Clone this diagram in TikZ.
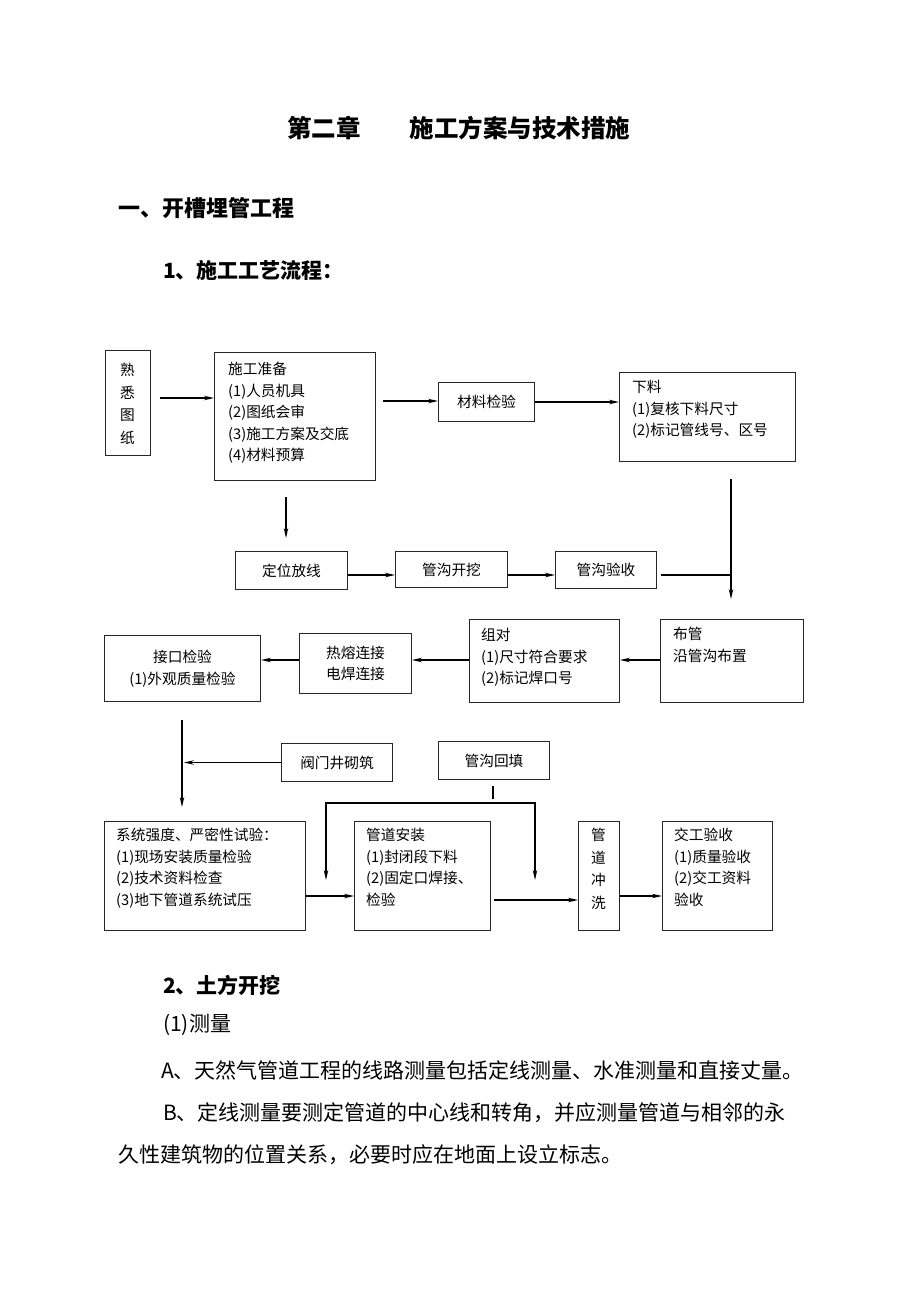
\documentclass[tikz,border=0pt]{standalone}
\usepackage{fontspec}
\setmainfont{Noto Sans CJK SC}
\usetikzlibrary{arrows.meta}
\begin{document}
\begin{tikzpicture}[x=1pt,y=-1pt,
  box/.style={draw=black!85, line width=1pt, inner sep=0pt, anchor=north west},
  txt/.style={inner sep=0pt, font=\fontsize{14.7}{21.5}\selectfont, align=left},
  vtxt/.style={inner sep=0pt, font=\fontsize{14.7}{22.5}\selectfont, align=center},
  body/.style={inner sep=0pt, anchor=west, font=\fontsize{21}{25}\selectfont},
  head/.style={inner sep=0pt, anchor=west, font=\fontsize{21}{25}\selectfont\bfseries},
  arr/.style={-{Stealth[length=10pt,width=4.5pt]}, line width=1.2pt},
  ln/.style={line width=1.2pt}]
\fill[white] (0,0) rectangle (920,1302);
\useasboundingbox (0,0) rectangle (920,1302);

% headings
\node[head, font=\fontsize{24.5}{28}\selectfont\bfseries] (title) at (287,128) {第二章\hspace{49pt}施工方案与技术措施};
\node[head, font=\fontsize{22}{26}\selectfont\bfseries] (h1) at (118,208) {一、开槽埋管工程};
\node[head] (h2) at (163,270) {1、施工工艺流程：};

% row 1
\node[box, minimum width=45pt, minimum height=105pt] (sx) at (105,350) {};
\node[vtxt] (sxt) at (127.5,404) {熟\\悉\\图\\纸};
\node[box, minimum width=161pt, minimum height=128pt] (zb) at (214,352) {};
\node[txt, anchor=north west] (zbt) at (228,362) {施工准备\\(1)人员机具\\(2)图纸会审\\(3)施工方案及交底\\(4)材料预算};
\node[box, minimum width=96pt, minimum height=39pt] (cl) at (438,382) {};
\node[txt] (clt) at (cl.center) {材料检验};
\node[box, minimum width=176pt, minimum height=89pt] (xl) at (619,372) {};
\node[txt, anchor=north west] (xlt) at (632,380) {下料\\(1)复核下料尺寸\\(2)标记管线号、区号};

\coordinate (a1) at (160,398);
\draw[arr] (a1) -- (a1 -| zb.west);
\coordinate (a2) at (383,401);
\draw[arr] (a2) -- (a2 -| cl.west);
\draw[arr] (cl.east) -- (cl.east -| xl.west);

% row 2
\coordinate (d1) at (286,497);
\coordinate (d2) at (286,538);
\draw[arr] (d1) -- (d2);
\node[box, minimum width=112pt, minimum height=38pt] (dw) at (235,551) {};
\node[txt] (dwt) at (dw.center) {定位放线};
\node[box, minimum width=112pt, minimum height=36pt] (kw) at (395,551) {};
\node[txt] (kwt) at (kw.center) {管沟开挖};
\node[box, minimum width=101pt, minimum height=37pt] (ys) at (555,551) {};
\node[txt] (yst) at (ys.center) {管沟验收};
\draw[arr] (dw.east |- 0,575) -- (kw.west |- 0,575);
\draw[arr] (kw.east |- 0,575) -- (ys.west |- 0,575);
\coordinate (v1) at (731,479);
\coordinate (v2) at (731,599);
\coordinate (j1) at (661,575);
\draw[arr] (v1) -- (v2);
\draw[ln] (j1) -- (j1 -| v1);

% row 3
\node[box, minimum width=143pt, minimum height=83pt] (bg) at (660,619) {};
\node[txt, anchor=north west] (bgt) at (673,627) {布管\\沿管沟布置};
\node[box, minimum width=150pt, minimum height=83pt] (zd) at (469,619) {};
\node[txt, anchor=north west] (zdt) at (481,628) {组对\\(1)尺寸符合要求\\(2)标记焊口号};
\node[box, minimum width=112pt, minimum height=60pt] (rr) at (299,633) {};
\node[txt, align=center] (rrt) at (rr.center) {热熔连接\\电焊连接};
\node[box, minimum width=156pt, minimum height=66pt] (jk) at (104,635) {};
\node[txt, align=center] (jkt) at (jk.center) {接口检验\\(1)外观质量检验};
\draw[arr] (bg.west |- 0,660) -- (zd.east |- 0,660);
\draw[arr] (zd.west |- 0,660) -- (rr.east |- 0,660);
\draw[arr] (rr.west |- 0,660) -- (jk.east |- 0,660);

% row 4
\coordinate (e1) at (182,720);
\coordinate (e2) at (182,807);
\draw[arr] (e1) -- (e2);
\node[box, minimum width=111pt, minimum height=38pt] (fm) at (281,743) {};
\node[txt] (fmt) at (fm.center) {阀门井砌筑};
\coordinate (f1) at (184,762);
\draw[arr] (fm.west) -- (fm.west -| f1);
\node[box, minimum width=111pt, minimum height=38pt] (ht) at (438,741) {};
\node[txt] (htt) at (ht.center) {管沟回填};
\coordinate (t1) at (493,786);
\coordinate (t2) at (493,799);
\draw[ln] (t1) -- (t2);
\coordinate (hm) at (430,803);
\coordinate (hl) at (326,880);
\coordinate (hr) at (535,880);
\draw[arr] (hm) -| (hl);
\draw[arr] (hm) -| (hr);

% row 5
\node[box, minimum width=201pt, minimum height=109pt] (xt) at (104,821) {};
\node[txt, anchor=north west] (xtt) at (116,828) {系统强度、严密性试验：\\(1)现场安装质量检验\\(2)技术资料检查\\(3)地下管道系统试压};
\node[box, minimum width=136pt, minimum height=109pt] (gd) at (354,821) {};
\node[txt, anchor=north west] (gdt) at (366,828) {管道安装\\(1)封闭段下料\\(2)固定口焊接、\\检验};
\node[box, minimum width=41pt, minimum height=109pt] (cx) at (578,821) {};
\node[vtxt] (cxt) at (598.5,869) {管\\道\\冲\\洗};
\node[box, minimum width=110pt, minimum height=109pt] (jg) at (662,821) {};
\node[txt, anchor=north west] (jgt) at (674,828) {交工验收\\(1)质量验收\\(2)交工资料\\验收};
\draw[arr] (xt.east |- 0,896) -- (gd.west |- 0,896);
\coordinate (g1) at (494,900);
\draw[arr] (g1) -- (g1 -| cx.west);
\draw[arr] (cx.east |- 0,896) -- (jg.west |- 0,896);

% body text
\node[head] (h3) at (163,985) {2、土方开挖};
\node[body] (p1) at (163,1025) {(1)测量};
\node[body] (p2) at (161,1070) {A、天然气管道工程的线路测量包括定线测量、水准测量和直接丈量。};
\node[body] (p3) at (163,1113) {B、定线测量要测定管道的中心线和转角，并应测量管道与相邻的永};
\node[body] (p4) at (118,1155) {久性建筑物的位置关系，必要时应在地面上设立标志。};
\end{tikzpicture}
\end{document}
